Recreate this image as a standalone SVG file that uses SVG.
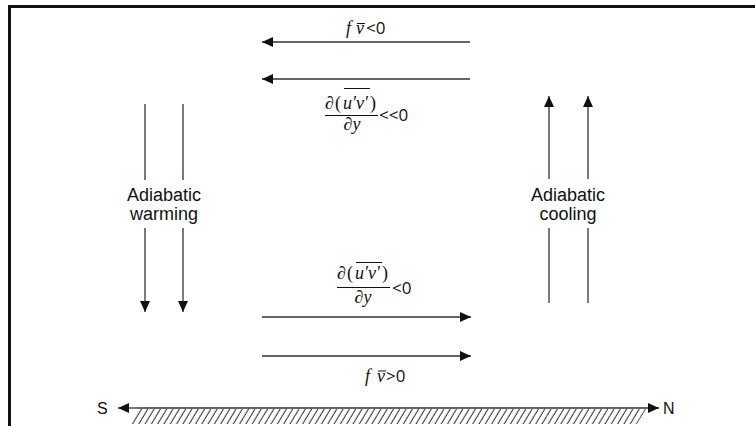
<svg xmlns="http://www.w3.org/2000/svg" width="755" height="426" viewBox="0 0 755 426">
  <style>
    .ln { stroke: #333; stroke-width: 1.3; fill: none; }
    .sans { font-family: "Liberation Sans", Arial, sans-serif; font-size: 18px; fill: #111; }
    .mi { font-family: "Liberation Serif", "Times New Roman", serif; font-style: italic; font-size: 18px; fill: #111; }
    .mr { font-family: "Liberation Serif", "Times New Roman", serif; font-size: 18px; fill: #111; }
    .mt { font-family: "Open Sans", "Liberation Sans", sans-serif; font-size: 17px; fill: #111; }
    .bar { stroke: #111; stroke-width: 1; }
  </style>
  <defs>
    <marker id="ah" viewBox="0 0 11 10" refX="11" refY="5" markerWidth="11" markerHeight="10" markerUnits="userSpaceOnUse" orient="auto">
      <path d="M0,0 L11,5 L0,10 z" fill="#111"/>
    </marker>
    <pattern id="hatch" patternUnits="userSpaceOnUse" width="6.3" height="16" patternTransform="skewX(-31)">
      <line x1="3" y1="-2" x2="3" y2="18" stroke="#333" stroke-width="1.2"/>
    </pattern>
  </defs>

  <rect width="755" height="426" fill="#fff"/>

  <g id="frame">
    <path d="M9.5,426 V6.5 H755" stroke="#111" stroke-width="3" fill="none"/>
  </g>

  <g id="connectors">
    <line class="ln" x1="470" y1="42" x2="262" y2="42" marker-end="url(#ah)"/>
    <line class="ln" x1="470" y1="79" x2="262" y2="79" marker-end="url(#ah)"/>
    <line class="ln" x1="262" y1="317" x2="471" y2="317" marker-end="url(#ah)"/>
    <line class="ln" x1="262" y1="356" x2="471" y2="356" marker-end="url(#ah)"/>
    <line class="ln" x1="145" y1="104" x2="145" y2="180"/>
    <line class="ln" x1="145" y1="228" x2="145" y2="312" marker-end="url(#ah)"/>
    <line class="ln" x1="183" y1="104" x2="183" y2="180"/>
    <line class="ln" x1="183" y1="228" x2="183" y2="312" marker-end="url(#ah)"/>
    <line class="ln" x1="549" y1="303" x2="549" y2="228"/>
    <line class="ln" x1="549" y1="179" x2="549" y2="96" marker-end="url(#ah)"/>
    <line class="ln" x1="588" y1="303" x2="588" y2="228"/>
    <line class="ln" x1="588" y1="179" x2="588" y2="96" marker-end="url(#ah)"/>
  </g>

  <g id="label-top1">
    <text class="mi" x="346" y="34">f</text>
    <text class="mi" x="356" y="34">v</text>
    <line class="bar" x1="357" y1="23.5" x2="365" y2="23.5"/>
    <text class="mt" x="366" y="34">&lt;0</text>
  </g>

  <g id="label-top2">
    <text class="mi" x="325" y="109">∂</text>
    <text class="mr" x="335" y="109">(</text>
    <text class="mi" x="343" y="109">u′v′</text>
    <text class="mr" x="370" y="109">)</text>
    <line class="bar" x1="344" y1="88.5" x2="370" y2="88.5"/>
    <line class="bar" x1="325" y1="115.5" x2="378" y2="115.5"/>
    <text class="mi" x="352" y="130" text-anchor="middle">∂y</text>
    <text class="mt" x="379" y="121">&lt;&lt;0</text>
  </g>

  <g id="label-bottom1">
    <text class="mi" x="337" y="279">∂</text>
    <text class="mr" x="347" y="279">(</text>
    <text class="mi" x="355" y="279">u′v′</text>
    <text class="mr" x="382" y="279">)</text>
    <line class="bar" x1="356" y1="262.5" x2="382" y2="262.5"/>
    <line class="bar" x1="337" y1="287.5" x2="390" y2="287.5"/>
    <text class="mi" x="363" y="303" text-anchor="middle">∂y</text>
    <text class="mt" x="392" y="294">&lt;0</text>
  </g>

  <g id="label-bottom2">
    <text class="mi" x="365" y="382">f</text>
    <text class="mi" x="377" y="382">v</text>
    <line class="bar" x1="378" y1="371" x2="386" y2="371"/>
    <text class="mt" x="386" y="382">&gt;0</text>
  </g>

  <g id="warming">
    <text class="sans" x="164" y="201" text-anchor="middle">Adiabatic</text>
    <text class="sans" x="164" y="220" text-anchor="middle">warming</text>
  </g>

  <g id="cooling">
    <text class="sans" x="568" y="201" text-anchor="middle">Adiabatic</text>
    <text class="sans" x="568" y="220" text-anchor="middle">cooling</text>
  </g>

  <g id="ground">
    <polygon points="128,424 137,409 646,409 637,424" fill="url(#hatch)"/>
    <line class="ln" x1="137" y1="408" x2="118" y2="408" marker-end="url(#ah)"/>
    <line class="ln" x1="137" y1="408" x2="659" y2="408" marker-end="url(#ah)"/>
    <text class="sans" x="97" y="414" style="font-size:16px">S</text>
    <text class="sans" x="663" y="414" style="font-size:16px">N</text>
  </g>
</svg>
